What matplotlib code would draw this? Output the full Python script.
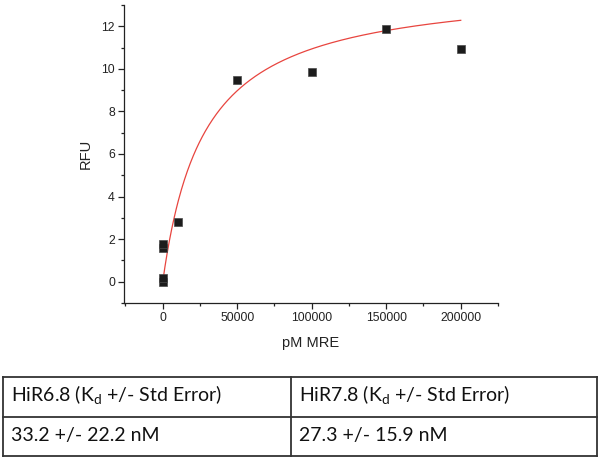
import numpy as np
import matplotlib
matplotlib.use('Agg')
import matplotlib.pyplot as plt

# binding data
mre_pM = [0, 500, 0, 300, 10000, 50000, 100000, 150000, 200000]
rfu = [0.0, 0.18, 1.58, 1.75, 2.8, 9.5, 9.85, 11.85, 10.95]

# one-site fit drawn as the red line
fit_bmax = 14.0
fit_kd = 28000
fit_xmax = 200000

xticks = [0, 50000, 100000, 150000, 200000]
yticks = [0, 2, 4, 6, 8, 10, 12]

table_header = ['HiR6.8 (K$_\\mathrm{d}$ +/- Std Error)', 'HiR7.8 (K$_\\mathrm{d}$ +/- Std Error)']
table_values = ['33.2 +/- 22.2 nM', '27.3 +/- 15.9 nM']


def main():
    plt.rcParams['font.family'] = ['Liberation Sans', 'DejaVu Sans']
    plt.rcParams['mathtext.fontset'] = 'custom'
    plt.rcParams['mathtext.rm'] = 'Lato'
    plt.rcParams['mathtext.it'] = 'Lato:italic'

    fig = plt.figure(figsize=(6, 4.59), dpi=100)
    ax = fig.add_axes([124 / 600, 156 / 459, 374 / 600, 298 / 459])

    xfit = np.linspace(0, fit_xmax, 400)
    yfit = fit_bmax * xfit / (fit_kd + xfit)
    ax.plot(xfit, yfit, color='#e8453f', lw=0.9, zorder=2)
    ax.plot(mre_pM, rfu, 's', ms=5.5, color='#1c1c1c', mec='#4a4a4a', mew=0.5, zorder=3)

    ax.set_xlim(-26000, 225000)
    ax.set_ylim(-1, 13)
    ax.set_xticks(xticks)
    ax.set_xticklabels([str(t) for t in xticks])
    ax.set_yticks(yticks)
    ax.set_xticks(np.arange(-25000, 225001, 25000), minor=True)
    ax.set_yticks(np.arange(-1, 13.1, 1), minor=True)
    for s in ['top', 'right']:
        ax.spines[s].set_visible(False)
    for s in ['left', 'bottom']:
        ax.spines[s].set_linewidth(0.9)
        ax.spines[s].set_color('#222222')
    ax.tick_params(which='major', direction='out', length=4, width=0.9, labelsize=8.8,
                   pad=2.5, colors='#222222')
    ax.tick_params(which='minor', direction='out', length=2.5, width=0.9, colors='#222222')

    ax.set_xlabel('pM MRE', fontsize=10.5, color='#222222')
    ax.set_ylabel('RFU', fontsize=10.5, color='#222222')
    ax.xaxis.set_label_coords(0.5, -0.11)
    ax.yaxis.set_label_coords(-0.083, 0.5)

    # table drawn in pixel coordinates
    tb = fig.add_axes([0, 0, 1, 1])
    tb.set_xlim(0, 600)
    tb.set_ylim(459, 0)
    tb.axis('off')
    lc = '#333333'
    left, mid, right = 3, 291, 597
    top, row, bottom = 377, 417, 456
    for y in [top, row, bottom]:
        tb.plot([left, right], [y, y], color=lc, lw=1.3, solid_capstyle='projecting')
    for x in [left, mid, right]:
        tb.plot([x, x], [top, bottom], color=lc, lw=1.3, solid_capstyle='projecting')
    for i, x0 in enumerate([left, mid]):
        tb.text(x0 + 8, 401, table_header[i], fontsize=14, family='Lato',
                va='baseline', ha='left', color='#111111')
        tb.text(x0 + 8, 441, table_values[i], fontsize=14, family='Lato',
                va='baseline', ha='left', color='#111111')

    fig.savefig('out.png', dpi=100)


if __name__ == '__main__':
    main()
